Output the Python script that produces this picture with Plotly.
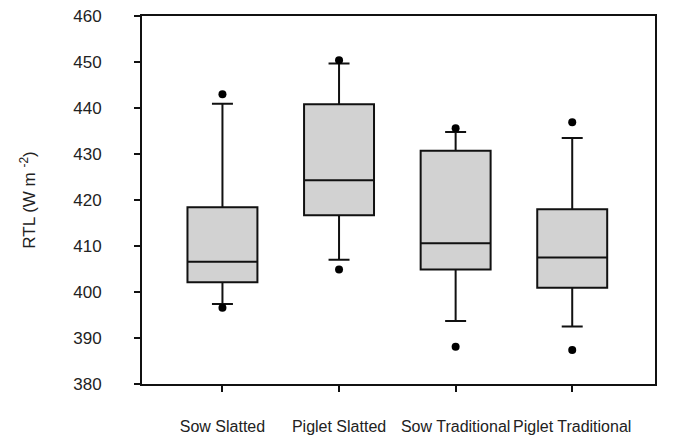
import plotly.graph_objects as go

categories = ["Sow Slatted", "Piglet Slatted", "Sow Traditional", "Piglet Traditional"]
lower_fence = [397.4, 407.0, 393.7, 392.5]
q1_vals = [402.1, 416.7, 404.9, 400.9]
median_vals = [406.6, 424.3, 410.6, 407.5]
q3_vals = [418.4, 440.8, 430.7, 418.0]
upper_fence = [440.9, 449.7, 434.8, 433.5]
outlier_high = [443.0, 450.4, 435.6, 436.9]
outlier_low = [396.6, 404.9, 388.1, 387.4]
y_ticks = [380, 390, 400, 410, 420, 430, 440, 450, 460]

font_family = "Liberation Sans, Arial, sans-serif"

fig = go.Figure()
fig.add_trace(go.Box(
    x=categories,
    q1=q1_vals, median=median_vals, q3=q3_vals,
    lowerfence=lower_fence, upperfence=upper_fence,
    fillcolor="#d2d2d2",
    line=dict(color="#111111", width=2),
    whiskerwidth=0.3,
    width=0.6,
    boxpoints=False,
    hoverinfo="skip",
    showlegend=False,
))
fig.add_trace(go.Scatter(
    x=categories + categories,
    y=outlier_high + outlier_low,
    mode="markers",
    marker=dict(color="#000000", size=8),
    showlegend=False,
    hoverinfo="skip",
))

fig.update_layout(
    width=674, height=437,
    margin=dict(l=142, r=19, t=16, b=53),
    paper_bgcolor="white", plot_bgcolor="white",
    font=dict(family=font_family, size=16, color="#222222"),
    showlegend=False,
)
fig.update_xaxes(
    type="category",
    range=[-0.69, 3.71],
    automargin=False,
    tickangle=0,
    showline=True, linecolor="#111111", linewidth=2, mirror=True,
    ticks="outside", ticklen=6, tickwidth=1.5, tickcolor="#111111",
    showgrid=False, zeroline=False,
    ticklabelstandoff=21,
    tickfont=dict(size=16, color="#222222"),
)
fig.update_yaxes(
    range=[380, 460],
    tickvals=y_ticks,
    automargin="left",
    showline=True, linecolor="#111111", linewidth=2, mirror=True,
    ticks="outside", ticklen=6, tickwidth=1.5, tickcolor="#111111",
    showgrid=False, zeroline=False,
    ticklabelstandoff=29,
    tickfont=dict(size=17, color="#222222"),
    title=dict(text="RTL (W m <sup>-2</sup>)", font=dict(size=17, color="#222222"), standoff=33),
)

fig.write_html("out.html")
